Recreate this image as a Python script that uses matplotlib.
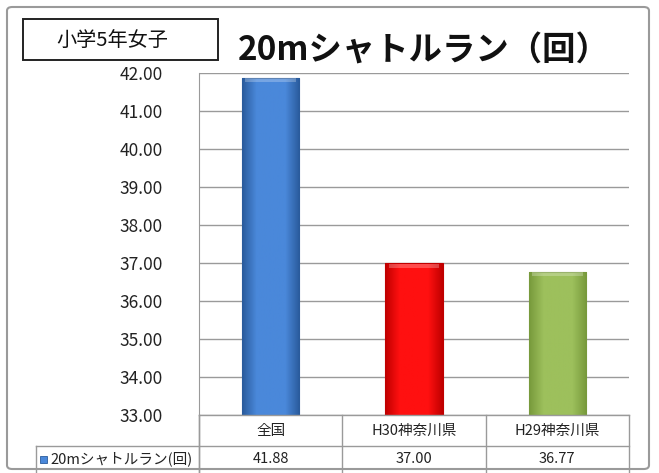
import numpy as np
import matplotlib
matplotlib.use('Agg')
import matplotlib.pyplot as plt
from matplotlib.colors import LinearSegmentedColormap
from matplotlib.patches import Rectangle, FancyBboxPatch

plt.rcParams['font.family'] = ['Noto Sans CJK JP', 'DejaVu Sans']

categories = ['全国', 'H30神奈川県', 'H29神奈川県']
values = [41.88, 37.00, 36.77]
value_labels = ['41.88', '37.00', '36.77']
series_name = '20mシャトルラン(回)'
yticks = [33, 34, 35, 36, 37, 38, 39, 40, 41, 42]

# (edge, middle) colours for each bar
bar_cols = [('#2a5b9c', '#4a88da'), ('#c00000', '#ff1010'), ('#789a3c', '#9dc05c')]

W, H = 659, 473
fig = plt.figure(figsize=(W / 100, H / 100), dpi=100)

def fx(px):
    return px / W

def fy(py):
    return 1 - py / H

# outer frame
fig.patches.append(FancyBboxPatch((fx(7), fy(469)), fx(649) - fx(7), fy(7) - fy(469),
                                  boxstyle='round,pad=0,rounding_size=0.008',
                                  transform=fig.transFigure, fill=False,
                                  ec='#9a9a9a', lw=1.5))

left, right, top, bottom = 199, 629, 73, 415
ax = fig.add_axes([fx(left), fy(bottom), fx(right) - fx(left), fy(top) - fy(bottom)])

x = np.arange(len(categories))
bars = ax.bar(x, values, width=0.4, bottom=0, zorder=3, color='none', edgecolor='none')
ax.set_xlim(-0.5, len(categories) - 0.5)
ax.set_ylim(33, 42)
ax.set_yticks(yticks)
ax.set_yticklabels(['%.2f' % t for t in yticks], fontsize=12.5, color='#222222')
ax.tick_params(axis='y', length=0, pad=26)
ax.set_xticks([])
ax.grid(axis='y', color='#9a9a9a', lw=1, zorder=0)
for s in ['top', 'right', 'bottom']:
    ax.spines[s].set_visible(False)
ax.spines['left'].set_color('#9a9a9a')

# bevelled gradient fill on each bar
for b, (ce, cm) in zip(bars, bar_cols):
    cmap = LinearSegmentedColormap.from_list('g', [ce, cm, cm, cm, ce])
    bx, bw = b.get_x(), b.get_width()
    grad = np.linspace(0, 1, 100).reshape(1, -1)
    im = ax.imshow(grad, cmap=cmap, aspect='auto', zorder=3,
                   extent=[bx, bx + bw, 33, b.get_height()])
    clip = Rectangle((bx, 33), bw, b.get_height() - 33, transform=ax.transData)
    im.set_clip_path(clip)
    ax.add_patch(Rectangle((bx, 33), bw, b.get_height() - 33, fill=False,
                           ec=ce, lw=0.8, zorder=4))
    # lighter top bevel
    ax.add_patch(Rectangle((bx + bw * 0.06, b.get_height() - 0.12), bw * 0.88, 0.1,
                           color='white', alpha=0.25, lw=0, zorder=4))
ax.set_xlim(-0.5, len(categories) - 0.5)
ax.set_ylim(33, 42)

# data table under the plot
lc = '#9a9a9a'
row1, row2, row3 = 415, 446, 472
col_w = (right - left) / len(categories)
fig.add_artist(plt.Line2D([fx(left), fx(right)], [fy(row1), fy(row1)], color=lc, lw=1))
fig.add_artist(plt.Line2D([fx(36), fx(right)], [fy(row2), fy(row2)], color=lc, lw=1))
fig.add_artist(plt.Line2D([fx(36), fx(36)], [fy(row2), fy(row3)], color=lc, lw=1))
fig.add_artist(plt.Line2D([fx(left), fx(left)], [fy(row1), fy(row3)], color=lc, lw=1))
for i in range(len(categories) + 1):
    xx = left + i * col_w
    fig.add_artist(plt.Line2D([fx(xx), fx(xx)], [fy(row1), fy(row3)], color=lc, lw=1))
for i, (c, v) in enumerate(zip(categories, value_labels)):
    cx = left + (i + 0.5) * col_w
    fig.text(fx(cx), fy((row1 + row2) / 2), c, ha='center', va='center', fontsize=10.5, color='#222222')
    fig.text(fx(cx), fy((row2 + row3) / 2), v, ha='center', va='center', fontsize=10.5, color='#222222')
fig.patches.append(Rectangle((fx(40), fy(463)), fx(7), fy(456) - fy(463),
                             transform=fig.transFigure, fc='#4a88da', ec='#2a5b9c', lw=0.6))
fig.text(fx(50), fy((row2 + row3) / 2), series_name, ha='left', va='center', fontsize=10.5, color='#222222')

# label box and title
fig.patches.append(Rectangle((fx(23), fy(60)), fx(218) - fx(23), fy(19) - fy(60),
                             transform=fig.transFigure, fc='white', ec='#222222', lw=1.4))
fig.text(fx(112), fy(40), '小学5年女子', ha='center', va='center', fontsize=14.5, color='#111111')
fig.text(fx(424), fy(51), '20mシャトルラン（回）', ha='center', va='center',
         fontsize=24, fontweight='bold', color='#111111')

fig.savefig('out.png', dpi=100)
